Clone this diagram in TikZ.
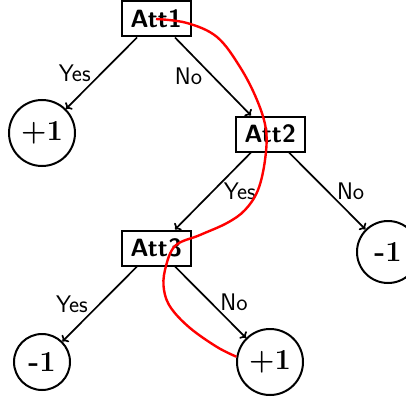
\documentclass[tikz,border=0pt]{standalone}
\usepackage{fontspec}
\usetikzlibrary{arrows.meta}
\begin{document}
\begin{tikzpicture}[x=1pt,y=-1pt,
  attbox/.style={draw,line width=2pt,minimum width=69pt,minimum height=35pt,inner sep=0pt,font=\sffamily\bfseries\fontsize{25}{27}\selectfont},
  leaf/.style={draw,circle,line width=2pt,inner sep=0pt,font=\bfseries\fontsize{29}{31}\selectfont},
  edge/.style={-{To[length=5pt,width=10pt]},line width=1.7pt},
  lab/.style={font=\sffamily\fontsize{24}{26}\selectfont,inner sep=1pt},
  path/.style={red,line width=2.4pt}]
\useasboundingbox (0,0) rectangle (406,401);
\node[attbox] (a1) at (156,19) {Att1};
\node[attbox] (a2) at (270,134) {Att2};
\node[attbox] (a3) at (156,248) {Att3};
\node[leaf,minimum size=66pt] (p1) at (42,133) {+1};
\node[leaf,minimum size=62pt] (m1) at (388,252) {-1};
\node[leaf,minimum size=56pt] (m2) at (42,362) {-1};
\node[leaf,minimum size=66pt] (p4) at (270,362) {+1};
\draw[edge] ([xshift=-19pt]a1.south) -- (p1) node[lab,midway,left=9pt] {Yes};
\draw[edge] ([xshift=19pt]a1.south) -- ([xshift=-19pt]a2.north) node[lab,midway,left=9pt] {No};
\draw[edge] ([xshift=-19pt]a2.south) -- ([xshift=19pt]a3.north) node[lab,midway,right=9pt] {Yes};
\draw[edge] ([xshift=19pt]a2.south) -- (m1) node[lab,midway,right=8pt] {No};
\draw[edge] ([xshift=-19pt]a3.south) -- (m2) node[lab,midway,left=10pt] {Yes};
\draw[edge] ([xshift=19pt]a3.south) -- (p4) node[lab,midway,right=8pt] {No};
\draw[path] plot[smooth,tension=0.6] coordinates {(a1.center) (187,23) (217,37) (240,67) (257,100) (266,130) (265,160) (258,190) (245,210) (227,223) (200,235) (175,246) (165,270) (164,290) (171,308) (190,328) (217,347) (p4.171)};
\end{tikzpicture}
\end{document}
